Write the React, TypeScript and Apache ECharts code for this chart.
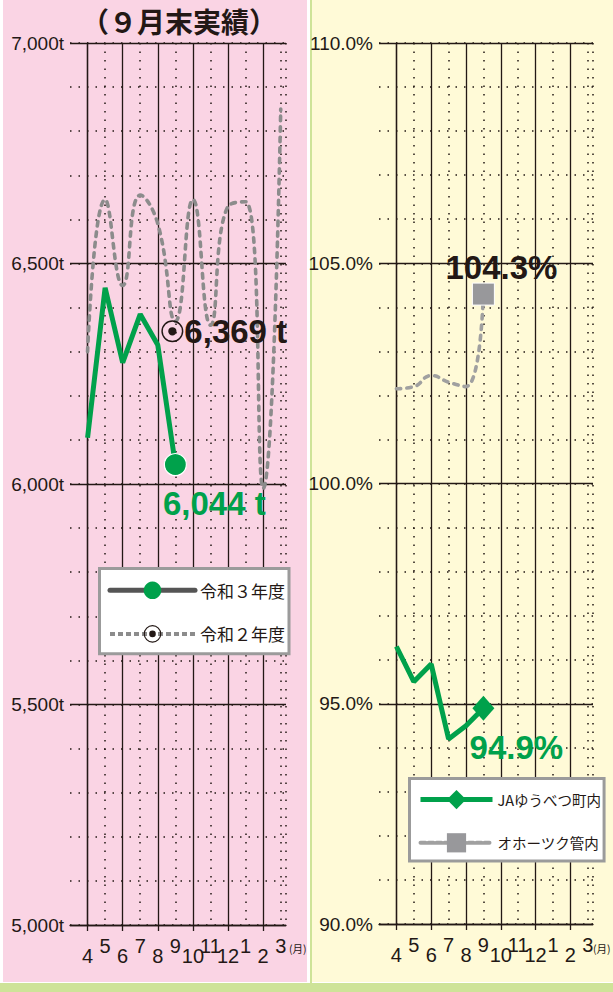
import React, { useEffect, useRef } from 'react';
import * as echarts from 'echarts';

// ---- data ----
const months = ['4', '5', '6', '7', '8', '9', '10', '11', '12', '1', '2', '3'];
const r3Values = [6105, 6445, 6275, 6385, 6315, 6044]; // 令和３年度 (t)
const r2Values = [6300, 6645, 6450, 6655, 6590, 6369, 6645, 6360, 6630, 6640, 5990, 6850]; // 令和２年度 (t)
const jaValues = [96.3, 95.5, 95.9, 94.2, 94.5, 94.9]; // JAゆうべつ町内 (%)
const okhValues = [102.15, 102.2, 102.45, 102.3, 102.2, 104.3]; // オホーツク管内 (%)
const solidTickIdx = [0, 2, 4, 6, 8, 10];
const dotTickIdx = [1, 3, 5, 7, 9, 11];
const leftRange = [5000, 7000];
const rightRange = [90, 110];

const INK = '#231815';
const GREEN = '#00a14b';
const GRAY = '#8c8c8c';
const SQUARE = '#98989b';
const PINK = '#fad4e4';
const YELLOW = '#fffad7';
const LEAF = '#cee398';
const FONT_NUM = "'Liberation Sans Narrow', 'Arial Narrow', 'Liberation Sans', sans-serif";
const FONT_BOLD = "'Liberation Sans', Arial, sans-serif";
const FONT_JP = "'Noto Sans CJK JP', sans-serif";

const RING =
  'path://M12,0A12,12,0,1,1,12,24A12,12,0,1,1,12,0ZM12,1.6A10.4,10.4,0,1,0,12,22.4A10.4,10.4,0,1,0,12,1.6ZM12,7.5A4.5,4.5,0,1,1,12,16.5A4.5,4.5,0,1,1,12,7.5Z';

const solidLine = { color: INK, width: 1.3 };
const dotLine = { color: INK, width: 1.5, type: [1.5, 7] as any };

const monthLabel = (v: number) => months[Math.round(v)] ?? '';

function makeXAxes(gridIndex: number) {
  const label = { fontSize: 20, color: INK, fontFamily: FONT_NUM, formatter: monthLabel };
  return [
    {
      type: 'value', gridIndex, min: -1, max: 11.3, position: 'bottom',
      axisLine: { show: true, onZero: false, lineStyle: solidLine },
      axisTick: { show: true, length: 6, customValues: solidTickIdx, lineStyle: solidLine },
      axisLabel: { ...label, customValues: solidTickIdx, margin: 21 },
      splitLine: { show: true, lineStyle: solidLine },
    },
    {
      type: 'value', gridIndex, min: -1, max: 11.3, position: 'bottom',
      axisLine: { show: false },
      axisTick: { show: false, customValues: [...dotTickIdx, 11.3] },
      axisLabel: { ...label, customValues: dotTickIdx, margin: 11 },
      splitLine: { show: true, lineStyle: dotLine },
    },
  ];
}

function makeYAxes(gridIndex: number, range: number[], major: number, minor: number, fmt: (v: number) => string) {
  return [
    {
      type: 'value', gridIndex, min: range[0], max: range[1], interval: major, position: 'left',
      axisLine: { show: true, lineStyle: solidLine },
      axisTick: { show: false },
      axisLabel: { formatter: fmt, margin: 6, fontSize: 19, color: INK, fontFamily: FONT_NUM },
      splitLine: { show: true, lineStyle: solidLine },
    },
    {
      type: 'value', gridIndex, min: range[0], max: range[1], interval: minor, position: 'left',
      axisLine: { show: false }, axisTick: { show: false }, axisLabel: { show: false },
      splitLine: { show: true, lineStyle: dotLine },
    },
  ];
}

const bigLabel = { fontSize: 33, fontWeight: 'bold', fontFamily: FONT_BOLD };

const option: any = {
  animation: false,
  backgroundColor: 'transparent',
  grid: [
    { left: 70, top: 43, width: 216, height: 882, containLabel: false },
    { left: 379, top: 43, width: 214, height: 881, containLabel: false },
  ],
  xAxis: [...makeXAxes(0), ...makeXAxes(1)],
  yAxis: [
    ...makeYAxes(0, leftRange, 500, 100, (v) => v.toLocaleString('en-US') + 't'),
    ...makeYAxes(1, rightRange, 5, 1, (v) => v.toFixed(1) + '%'),
  ],
  legend: [
    {
      data: [
        { name: '令和３年度', lineStyle: { color: '#555555', width: 5, type: 'solid', cap: 'round' }, itemStyle: { color: GREEN, borderWidth: 0 } },
        { name: '令和２年度', lineStyle: { color: GRAY, width: 4, type: [5, 3], cap: 'butt' }, itemStyle: { color: INK } },
      ],
      left: 99.5, top: 568.5, orient: 'vertical',
      itemWidth: 85, itemHeight: 22, itemGap: 26, itemTextGap: 14,
      padding: [13, 4, 11, 8],
      backgroundColor: '#ffffff', borderColor: '#9b9b9b', borderWidth: 3, borderRadius: 0,
      textStyle: { fontSize: 17, color: INK, fontFamily: FONT_JP },
      selectedMode: false,
    },
    {
      data: [
        { name: 'JAゆうべつ町内', lineStyle: { color: GREEN, width: 5, type: 'solid' }, itemStyle: { color: GREEN, borderWidth: 0 } },
        { name: 'オホーツク管内', lineStyle: { color: '#a0a0a0', width: 4, type: [5, 3] }, itemStyle: { color: SQUARE, borderWidth: 0 } },
      ],
      left: 409.5, top: 778.5, orient: 'vertical',
      itemWidth: 72, itemHeight: 24, itemGap: 24, itemTextGap: 8,
      padding: [11.5, 3, 8.5, 8.5],
      backgroundColor: '#ffffff', borderColor: '#9b9b9b', borderWidth: 3, borderRadius: 0,
      textStyle: { fontSize: 14.5, color: INK, fontFamily: FONT_JP },
      selectedMode: false,
    },
  ],
  series: [
    {
      name: '令和２年度', type: 'line', xAxisIndex: 0, yAxisIndex: 0, smooth: true,
      symbol: RING, symbolSize: 22,
      lineStyle: { color: GRAY, width: 3.6, type: [4.5, 6], cap: 'round' },
      itemStyle: { color: INK },
      z: 2,
      data: r2Values.map((v, i) =>
        i === 5
          ? {
              value: [i, v], symbolOffset: [-3, 10],
              label: {
                show: true, position: 'right', distance: 1, color: INK, ...bigLabel,
                formatter: (p: any) => p.value[1].toLocaleString('en-US') + ' t',
              },
            }
          : { value: [i, v], symbol: 'none' }
      ),
    },
    {
      name: '令和３年度', type: 'line', xAxisIndex: 0, yAxisIndex: 0,
      symbol: 'circle', symbolSize: 22,
      lineStyle: { color: GREEN, width: 5 },
      itemStyle: { color: GREEN, borderColor: '#ffffff', borderWidth: 1.2 },
      z: 3,
      data: r3Values.map((v, i) =>
        i === r3Values.length - 1
          ? {
              value: [i, v],
              label: {
                show: true, position: 'bottom', offset: [39, 6], color: GREEN, ...bigLabel,
                formatter: (p: any) => p.value[1].toLocaleString('en-US') + ' t',
              },
            }
          : { value: [i, v], symbol: 'none' }
      ),
    },
    {
      name: 'オホーツク管内', type: 'line', xAxisIndex: 2, yAxisIndex: 2, smooth: true,
      symbol: 'rect', symbolSize: 22,
      lineStyle: { color: '#a0a0a0', width: 3.6, type: [4.5, 6], cap: 'round' },
      itemStyle: { color: SQUARE, borderColor: '#ffffff', borderWidth: 1 },
      z: 2,
      data: okhValues.map((v, i) =>
        i === okhValues.length - 1
          ? {
              value: [i, v],
              label: {
                show: true, position: 'top', offset: [18, 6], color: INK, ...bigLabel,
                formatter: (p: any) => p.value[1].toFixed(1) + '%',
              },
            }
          : { value: [i, v], symbol: 'none' }
      ),
    },
    {
      name: 'JAゆうべつ町内', type: 'line', xAxisIndex: 2, yAxisIndex: 2,
      symbol: 'diamond', symbolSize: [22, 25],
      lineStyle: { color: GREEN, width: 5 },
      itemStyle: { color: GREEN },
      z: 3,
      data: jaValues.map((v, i) =>
        i === jaValues.length - 1
          ? {
              value: [i, v],
              label: {
                show: true, position: 'bottom', offset: [33, 5], color: GREEN, ...bigLabel,
                formatter: (p: any) => p.value[1].toFixed(1) + '%',
              },
            }
          : { value: [i, v], symbol: 'none' }
      ),
    },
  ],
  graphic: [
    {
      type: 'text', left: 81, top: 7,
      style: { text: '（９月末実績）', fill: INK, fontSize: 28, fontWeight: 'bold', fontFamily: FONT_JP },
    },
    {
      type: 'text', left: 289, top: 943,
      style: { text: '(月)', fill: INK, fontSize: 10.5, fontFamily: FONT_JP },
    },
    {
      type: 'text', left: 593, top: 943,
      style: { text: '(月)', fill: INK, fontSize: 10.5, fontFamily: FONT_JP },
    },
  ],
};

export default function App() {
  const ref = useRef<HTMLDivElement>(null);
  useEffect(() => {
    if (!ref.current) return;
    const chart = echarts.init(ref.current, null, { renderer: 'svg' });
    chart.setOption(option);
    return () => chart.dispose();
  }, []);
  return (
    <div style={{ position: 'absolute', left: 0, top: 0, width: 613, height: 992, background: '#ffffff', overflow: 'hidden' }}>
      <div style={{ position: 'absolute', left: 3, top: 0, width: 304, height: 982, background: PINK }} />
      <div style={{ position: 'absolute', left: 310, top: 0, width: 2, height: 983, background: LEAF }} />
      <div style={{ position: 'absolute', left: 312, top: 0, width: 301, height: 982, background: YELLOW }} />
      <div style={{ position: 'absolute', left: 0, top: 983, width: 613, height: 9, background: LEAF }} />
      <div ref={ref} style={{ position: 'absolute', left: 0, top: 0, width: 613, height: 992 }} />
    </div>
  );
}
